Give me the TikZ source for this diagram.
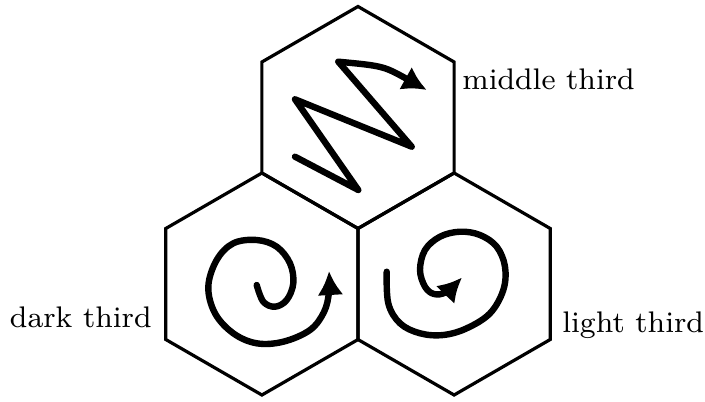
\documentclass[tikz,border=0pt]{standalone}
\usepackage{fontspec}
\newfontfamily\capfont{lmroman8-regular.otf}
\usetikzlibrary{arrows.meta,shapes.geometric}

\begin{document}
\begin{tikzpicture}[
    x=0.5pt, y=-0.5pt,
    font=\capfont\fontsize{14.9}{18}\selectfont,
    hexcell/.style={
        regular polygon,
        regular polygon sides=6,
        shape border rotate=30,
        draw=black,
        line width=1.6pt,
        minimum size=111pt,
        inner sep=0pt,
        outer sep=0pt
    },
    caption/.style={
        inner sep=0pt
    },
    swirl/.style={
        -{Latex[length=12pt, width=13pt]},
        line width=3.2pt,
        line cap=round,
        line join=round
    }
]
\useasboundingbox (0,0) rectangle (705,401);

% =========================================================
% CELDAS
% =========================================================

\node[hexcell] (midhex) at (358,117.5) {};
\node[hexcell] (darkhex) at (261.9,284) {};
\node[hexcell] (lighthex) at (454.1,284) {};

% =========================================================
% ETIQUETAS
% =========================================================

\node[caption, anchor=base west] (midlabel) at (462,90) {middle third};
\node[caption, anchor=base east] (darklabel) at (152,327) {dark third};
\node[caption, anchor=base west] (lightlabel) at (562,332) {light third};

% =========================================================
% FLECHAS
% =========================================================

% zigzag del tercio medio
\draw[swirl] (295,156.7) -- (358.3,190) -- (295,99.3) -- (411.7,146.7)
    -- (338.3,61.7) .. controls (383.5,66) .. (426.7,90);

% espiral del tercio oscuro
\draw[swirl] plot[smooth, tension=0.6] coordinates {
    (256.7,285) (263.3,301.7) (275,306.7) (286.7,300) (293.3,283.3)
    (290,263.3) (276.7,246.7) (256.7,240) (233.3,243.3) (216.7,260)
    (208.3,286.7) (215,313.3) (233.3,333.3) (256.7,343.3) (283.3,341.7)
    (310,330) (324,312) (329,292) (329,271)};

% espiral del tercio claro
\draw[swirl] plot[smooth, tension=0.6] coordinates {
    (386.7,271.7) (388.3,303.3) (400,323.3) (420,333.3) (443.3,335)
    (466.7,328.3) (490,313.3) (503.3,290) (505,266.7) (496.7,246.7)
    (480,235) (460,231.7) (440,236.7) (425,250) (420,270)
    (425,286.7) (434,294) (446,292) (462,277.5)};

\end{tikzpicture}
\end{document}
